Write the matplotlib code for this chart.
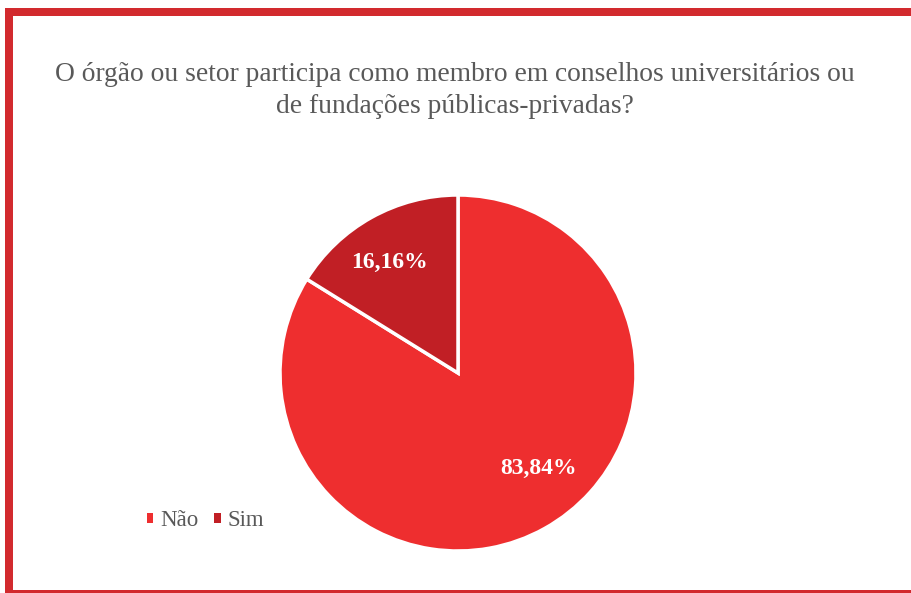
import numpy as np
import matplotlib
matplotlib.use("Agg")
import matplotlib.pyplot as plt
from matplotlib.patches import Rectangle

categories = ["Não", "Sim"]
values = [83.84, 16.16]
colors = ["#EE2E2F", "#C11F25"]
title = "O órgão ou setor participa como membro em conselhos universitários ou\nde fundações públicas-privadas?"

W, H = 912, 593
fig = plt.figure(figsize=(W / 100, H / 100), dpi=100)
fig.patch.set_facecolor("white")

serif = ["Liberation Serif", "DejaVu Serif"]
border = "#D22A2E"
# border (left, top, bottom)
fig.add_artist(Rectangle((5 / W, 0), 8 / W, (H - 8) / H, transform=fig.transFigure, color=border, lw=0))
fig.add_artist(Rectangle((5 / W, (H - 16) / H), (W - 5) / W, 8 / H, transform=fig.transFigure, color=border, lw=0))
fig.add_artist(Rectangle((5 / W, 0), (W - 5) / W, 3 / H, transform=fig.transFigure, color=border, lw=0))

fig.text(455 / W, (H - 90.5) / H, title, ha="center", va="center", fontsize=19.8,
         color="#595959", family=serif, linespacing=1.32)

cx, cy, r = 458, 373, 178
ax = fig.add_axes([(cx - r) / W, (H - cy - r) / H, 2 * r / W, 2 * r / H])
wedges, texts, autotexts = ax.pie(
    values, colors=colors, startangle=90, counterclock=False,
    autopct=lambda p: f"{p:.2f}%".replace(".", ","), pctdistance=0.72,
    wedgeprops=dict(edgecolor="white", linewidth=2.5),
    textprops=dict(color="white", fontsize=17, fontweight="bold", family=serif))
# Excel-like best-fit placement for the labels
w = wedges[0]
ang = np.deg2rad((w.theta1 + w.theta2) / 2 + 11)
autotexts[0].set_position((0.70 * np.cos(ang), 0.70 * np.sin(ang)))
w = wedges[1]
ang = np.deg2rad((w.theta1 + w.theta2) / 2 + 2.5)
autotexts[1].set_position((0.73 * np.cos(ang), 0.73 * np.sin(ang)))
ax.set_xlim(-1, 1)
ax.set_ylim(-1, 1)
ax.set_aspect("equal")
ax.axis("off")

leg = fig.legend(wedges, categories, loc="center left", bbox_to_anchor=(147 / W, (H - 521) / H),
                 ncol=2, frameon=False, handlelength=0.27, handleheight=0.27, handletextpad=0.3,
                 columnspacing=0.7, borderpad=0, borderaxespad=0,
                 prop=dict(family=serif, size=16.5))
for t in leg.get_texts():
    t.set_color("#595959")
for h in leg.legend_handles:
    h.set_edgecolor("none")

fig.savefig("out.png", dpi=100)
